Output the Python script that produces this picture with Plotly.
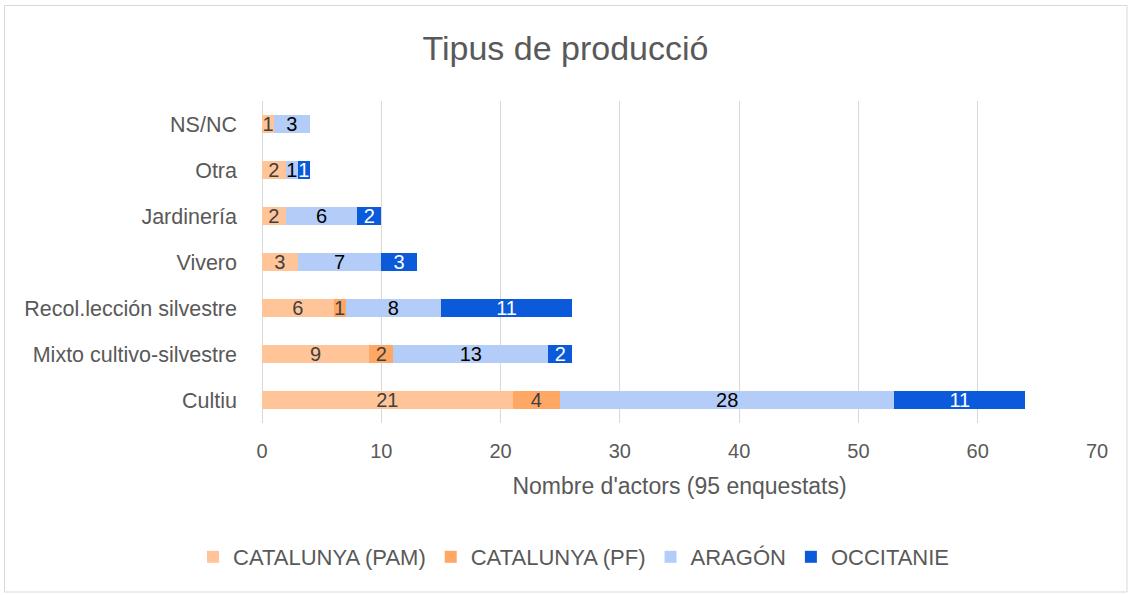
import plotly.graph_objects as go

categories = ["Cultiu", "Mixto cultivo-silvestre", "Recol.lección silvestre", "Vivero", "Jardinería", "Otra", "NS/NC"]
series_names = ["CATALUNYA (PAM)", "CATALUNYA (PF)", "ARAGÓN", "OCCITANIE"]
cat_pam = [21, 9, 6, 3, 2, 2, 1]
cat_pf = [4, 2, 1, 0, 0, 0, 0]
aragon = [28, 13, 8, 7, 6, 1, 3]
occitanie = [11, 2, 11, 3, 2, 1, 0]
x_ticks = [0, 10, 20, 30, 40, 50, 60, 70]

series_values = [cat_pam, cat_pf, aragon, occitanie]
colors = ["#FFC599", "#FFA866", "#B4CDF8", "#0B5AD9"]
text_colors = ["#404040", "#404040", "#000000", "#FFFFFF"]

FONT = "Liberation Sans, Arial, sans-serif"

fig = go.Figure()
for name, vals, col, tcol in zip(series_names, series_values, colors, text_colors):
    fig.add_trace(go.Bar(
        y=categories, x=vals, name=name, orientation="h",
        marker=dict(color=col, line=dict(width=0)),
        text=[str(v) if v else "" for v in vals],
        textposition="inside", insidetextanchor="middle", textangle=0,
        constraintext="none",
        textfont=dict(color=tcol, size=20, family=FONT),
        hoverinfo="x+name",
    ))

W, H = 1131, 595
ml, mr, mt, mb = 262, 34, 101, 172
pw, ph = W - ml - mr, H - mt - mb

def px_x(p):
    return (p - ml) / pw

def px_y(p):
    return (H - mb - p) / ph

fig.update_layout(
    width=W, height=H,
    barmode="stack", bargap=0.6,
    paper_bgcolor="white", plot_bgcolor="white",
    margin=dict(l=ml, r=mr, t=mt, b=mb),
    font=dict(family=FONT, color="#595959", size=20),
    title=dict(text="Tipus de producció", x=0.5, xanchor="center",
               y=1 - 48 / H, yanchor="middle",
               font=dict(size=34, color="#595959", family=FONT)),
    xaxis=dict(range=[0, 70], tickvals=x_ticks, showgrid=True,
               gridcolor="#D9D9D9", gridwidth=1.3, zeroline=True,
               zerolinecolor="#D9D9D9", zerolinewidth=1.3, showline=False,
               tickfont=dict(size=20, color="#595959"), ticks="",
               ticklabelstandoff=14,
               title=dict(text="Nombre d'actors (95 enquestats)",
                          font=dict(size=23, color="#595959"), standoff=16)),
    yaxis=dict(categoryorder="array", categoryarray=categories,
               showgrid=False, showline=False, ticks="", ticklabelstandoff=24,
               tickfont=dict(size=21.5, color="#595959")),
    legend=dict(orientation="h", x=px_x(574), xanchor="center",
                y=px_y(557), yanchor="middle",
                font=dict(size=22, color="#595959"),
                itemwidth=30, traceorder="normal"),
    showlegend=True,
)

fig.add_shape(type="rect", xref="paper", yref="paper",
              x0=px_x(4.5), x1=px_x(1127), y0=px_y(5.5), y1=px_y(592),
              line=dict(color="#D9D9D9", width=1), fillcolor="rgba(0,0,0,0)",
              layer="below")

fig.write_html("out.html", config={"displayModeBar": False},
               post_script="document.body.style.margin='0px';")
